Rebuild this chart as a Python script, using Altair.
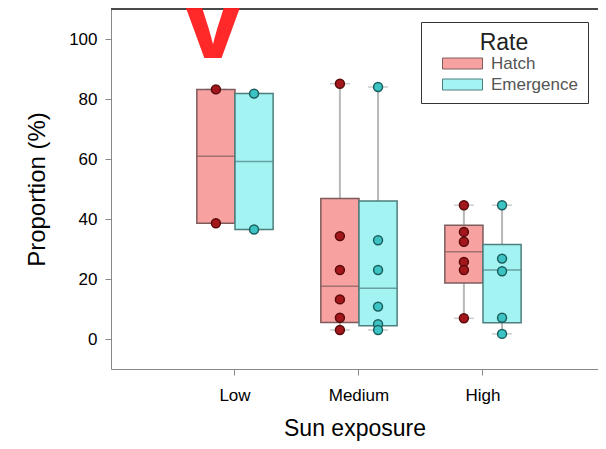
import altair as alt
import pandas as pd

categories = ["Low", "Medium", "High"]
rates = ["Hatch", "Emergence"]

# box summaries (one per Sun x Rate)
box_sun = ["Low", "Low", "Medium", "Medium", "High", "High"]
box_rate = ["Hatch", "Emergence", "Hatch", "Emergence", "Hatch", "Emergence"]
box_lo = [38.6, 36.5, 3.0, 3.0, 6.9, 1.7]
box_q1 = [38.6, 36.5, 5.5, 4.4, 18.7, 5.4]
box_med = [60.9, 59.2, 17.6, 16.9, 29.1, 23.0]
box_q3 = [83.2, 81.8, 46.8, 46.0, 37.9, 31.5]
box_hi = [83.2, 81.8, 85.1, 84.0, 44.6, 44.6]

# individual observations
pt_sun = (["Low"] * 4 + ["Medium"] * 12 + ["High"] * 11)
pt_rate = (["Hatch"] * 2 + ["Emergence"] * 2 +
           ["Hatch"] * 6 + ["Emergence"] * 6 +
           ["Hatch"] * 6 + ["Emergence"] * 5)
pt_value = [83.2, 38.6, 81.8, 36.5,
            85.1, 34.3, 23.0, 13.2, 7.1, 3.0,
            84.0, 32.9, 23.0, 10.8, 4.9, 3.0,
            44.6, 35.7, 32.4, 25.7, 23.0, 6.9,
            44.6, 26.8, 22.6, 7.1, 1.7]

# annotation
note_sun = ["Low"]
note_rate = ["Hatch"]
note_value = [93.7]
note_text = ["V"]

y_ticks = [0, 20, 40, 60, 80, 100]
y_top = [110]

box_fill = ["#F7A1A1", "#A3F3F3"]
box_stroke = ["#7E5C5C", "#4E7E7E"]
frame = "#4A4A4A"
font = "Liberation Sans"

box_df = pd.DataFrame({"Sun": box_sun, "Rate": box_rate, "lo": box_lo,
                       "q1": box_q1, "med": box_med, "q3": box_q3, "hi": box_hi})
pt_df = pd.DataFrame({"Sun": pt_sun, "Rate": pt_rate, "value": pt_value})
note_df = pd.DataFrame({"Sun": note_sun, "Rate": note_rate,
                        "value": note_value, "label": note_text})
top_df = pd.DataFrame({"value": y_top})

W, H = 487, 360

x_enc = alt.X("Sun:N", sort=categories,
              scale=alt.Scale(domain=categories, paddingInner=0.2,
                              paddingOuter=0.5637, align=0.532),
              axis=alt.Axis(title="Sun exposure", labelAngle=0, tickSize=6,
                            labelPadding=12, labelFontSize=17, titleFontSize=23,
                            titlePadding=14, titleFontWeight="normal"))
xo_enc = alt.XOffset("Rate:N", sort=rates,
                     scale=alt.Scale(domain=rates, paddingInner=0, paddingOuter=0.3))
yscale = alt.Scale(domain=[-10, 110], nice=False, zero=False)
y_axis = alt.Axis(title="Proportion (%)", values=y_ticks, tickSize=6, labelPadding=8,
                  labelFontSize=17, titleFontSize=24, titlePadding=19, grid=False,
                  titleFontWeight="normal")


def yenc(field):
    return alt.Y(field, type="quantitative", scale=yscale, axis=y_axis,
                 title="Proportion (%)")


whisk = alt.Chart(box_df).mark_rule(color="#B8B8B8", strokeWidth=2).encode(
    x=x_enc, xOffset=xo_enc, y=yenc("lo"), y2="hi:Q")

cap_lo = alt.Chart(box_df).mark_tick(color="#B8B8B8", size=20, thickness=1.5,
                                      orient="horizontal").encode(
    x=x_enc, xOffset=xo_enc, y=yenc("lo"))
cap_hi = alt.Chart(box_df).mark_tick(color="#B8B8B8", size=20, thickness=1.5,
                                      orient="horizontal").encode(
    x=x_enc, xOffset=xo_enc, y=yenc("hi"))

boxes = alt.Chart(box_df).mark_bar(strokeWidth=1.5).encode(
    x=x_enc, xOffset=xo_enc,
    y=yenc("q1"), y2="q3:Q",
    fill=alt.Fill("Rate:N", sort=rates,
                  scale=alt.Scale(domain=rates, range=box_fill),
                  legend=alt.Legend(title="Rate", orient="none", legendX=310, legendY=13,
                                    symbolType="M-1,-0.6875L4,-0.6875L4,0.6875L-1,0.6875Z",
                                    symbolSize=256, symbolStrokeColor="#777777",
                                    symbolStrokeWidth=1, labelOffset=32,
                                    symbolOffset=11, padding=10, rowPadding=3,
                                    titlePadding=0, titleFontSize=23,
                                    titleFontWeight="normal", titleAnchor="middle",
                                    titleColor="#222222", labelFontSize=17,
                                    labelColor="#555555", strokeColor="#333333",
                                    fillColor="white", cornerRadius=0)),
    stroke=alt.Stroke("Rate:N", sort=rates,
                      scale=alt.Scale(domain=rates, range=box_stroke), legend=None))

medians = alt.Chart(box_df).mark_tick(size=38, thickness=1.5,
                                       orient="horizontal").encode(
    x=x_enc, xOffset=xo_enc,
    y=yenc("med"),
    color=alt.Color("Rate:N", sort=rates,
                    scale=alt.Scale(domain=rates, range=box_stroke), legend=None))

pts_h = alt.Chart(pt_df).transform_filter(alt.datum.Rate == "Hatch").mark_point(
    shape="circle", filled=True, fill="#A3171C", stroke="#5A0A0A", strokeWidth=1.5,
    size=80, opacity=1).encode(
    x=x_enc, xOffset=xo_enc, y=yenc("value"))
pts_e = alt.Chart(pt_df).transform_filter(alt.datum.Rate == "Emergence").mark_point(
    shape="circle", filled=True, fill="#3CC3C3", stroke="#1C5E5E", strokeWidth=1.5,
    size=80, opacity=1).encode(
    x=x_enc, xOffset=xo_enc, y=yenc("value"))

top_line = alt.Chart(top_df).mark_rule(color=frame, strokeWidth=1.8).encode(
    y=yenc("value"), x=alt.value(0), x2=alt.value(W))

note = alt.Chart(note_df).mark_text(font=font, fontSize=118, fontWeight="bold",
                                    color="#FF1E1E", baseline="alphabetic",
                                    align="center", dx=-3, opacity=0.95).encode(
    x=x_enc, xOffset=xo_enc, y=yenc("value"), text="label:N")

chart = alt.layer(whisk, cap_lo, cap_hi, boxes, medians, pts_h, pts_e, top_line,
                  note).properties(
    width=W, height=H,
    padding={"left": 103, "top": 1, "right": 0, "bottom": 72},
    autosize=alt.AutoSizeParams(type="none"),
).configure_view(stroke=None).configure_axis(
    domain=True, domainColor=frame, domainWidth=1.8,
    tickColor=frame, tickWidth=1.5, labelColor="#333333",
    titleColor="#333333", labelFont=font, titleFont=font
).configure_legend(labelFont=font, titleFont=font).configure(font=font)

chart.save("out.html", embed_options={"renderer": "svg", "actions": False})
